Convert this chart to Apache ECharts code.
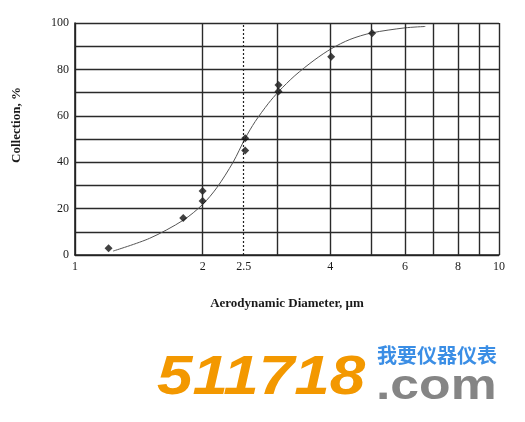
<!DOCTYPE html>
<html lang="en">
<head>
    <meta charset="utf-8">
    <title>Collection vs Aerodynamic Diameter</title>
    <script src="https://cdn.jsdelivr.net/npm/echarts@6/dist/echarts.min.js"></script>
    <style>
        html, body { margin: 0; padding: 0; background: #fff; }
        #main { width: 525px; height: 422px; }
    </style>
</head>
<body>
    <div id="main"></div>
    <script type="text/javascript">
        // measured points (diamonds)
        var pointX = [1.2, 1.8, 2.0, 2.0, 2.52, 2.52, 3.02, 3.02, 4.02, 5.02];
        var pointY = [2.9, 15.9, 27.6, 23.3, 50.3, 45.0, 73.3, 70.5, 85.4, 95.6];
        // fitted curve
        var curveX = [1.23, 1.5, 1.8, 2.0, 2.16, 2.36, 2.52, 2.66, 2.86, 3.02, 3.30, 3.68, 4.03, 4.45, 5.0, 6.0, 6.7];
        var curveY = [1.7, 7.2, 15.0, 21.8, 29.0, 40.0, 50.3, 57.5, 65.4, 70.4, 77.3, 84.2, 89.0, 92.9, 95.7, 97.9, 98.5];
        // vertical grid lines and the extra tick labels on the log axis
        var gridX = [2, 3, 4, 5, 6, 7, 8, 9];
        var labelX = [2, 4, 6, 8];
        var cutX = 2.5;

        var serif = 'Liberation Serif';
        var ink = '#1a1a1a';

        function pairs(xs, ys) {
            var out = [];
            for (var i = 0; i < xs.length; i++) out.push([xs[i], ys[i]]);
            return out;
        }

        var tickLabel = { show: true, position: 'start', distance: 6, formatter: '{b}',
                          fontFamily: serif, fontSize: 12, color: ink };
        var vLines = [];
        for (var i = 0; i < gridX.length; i++) {
            var v = gridX[i];
            vLines.push({
                xAxis: v, name: String(v),
                label: labelX.indexOf(v) >= 0 ? tickLabel : { show: false }
            });
        }
        // dashed cut line at 2.5 µm
        vLines.push({
            xAxis: cutX, name: String(cutX),
            label: tickLabel,
            lineStyle: { type: [2, 2], width: 1.2, color: '#222' }
        });

        var myChart = echarts.init(document.getElementById('main'));
        myChart.setOption({
            animation: false,
            backgroundColor: '#fff',
            grid: { left: 75, right: 26, top: 23, bottom: 167 },
            xAxis: {
                type: 'log', logBase: 10, min: 1, max: 10,
                name: 'Aerodynamic Diameter, \u00b5m',
                nameLocation: 'middle', nameGap: 42,
                nameTextStyle: { fontFamily: serif, fontWeight: 'bold', fontSize: 13, color: ink },
                axisLine: { show: true, lineStyle: { color: '#222', width: 1.6 } },
                axisTick: { show: false },
                axisLabel: { fontFamily: serif, fontSize: 12, color: ink, margin: 6 },
                splitLine: { show: true, lineStyle: { color: '#2a2a2a', width: 1.4 } },
                minorTick: { show: false },
                minorSplitLine: { show: false }
            },
            yAxis: {
                type: 'value', min: 0, max: 100, interval: 10,
                axisLine: { show: true, lineStyle: { color: '#222', width: 1.6 } },
                axisTick: { show: false },
                axisLabel: {
                    fontFamily: serif, fontSize: 12, color: ink, margin: 6,
                    formatter: function (v) { return v % 20 === 0 ? v : ''; }
                },
                splitLine: { show: true, lineStyle: { color: '#2a2a2a', width: 1.4 } }
            },
            graphic: [
                {
                    type: 'text', x: 17, y: 125, rotation: Math.PI / 2,
                    style: { text: 'Collection, %', fill: ink, align: 'center', verticalAlign: 'middle',
                             font: 'bold 13px "Liberation Serif"' }
                },
                {
                    type: 'text', x: 157, y: 379, scaleX: 1.16,
                    style: { text: '511718', fill: '#f39800', align: 'left', verticalAlign: 'middle',
                             font: 'italic bold 55px "Liberation Sans"' }
                },
                {
                    type: 'text', x: 376, y: 387, scaleX: 1.23,
                    style: { text: '.com', fill: '#858585', align: 'left', verticalAlign: 'middle',
                             font: 'bold 42px "Liberation Sans"' }
                },
                {
                    type: 'text', x: 377, y: 355,
                    style: { text: '我要仪器仪表', fill: '#3b8ee5', align: 'left', verticalAlign: 'middle',
                             font: 'bold 20px "Noto Sans CJK SC"' }
                }
            ],
            series: [
                {
                    name: 'curve', type: 'line', smooth: 0.3,
                    showSymbol: false, symbol: 'none',
                    lineStyle: { color: '#555', width: 1 },
                    data: pairs(curveX, curveY),
                    markLine: {
                        silent: true, symbol: ['none', 'none'],
                        lineStyle: { type: 'solid', color: '#2a2a2a', width: 1.4 },
                        data: vLines
                    },
                    z: 3
                },
                {
                    name: 'points', type: 'scatter', symbol: 'diamond', symbolSize: 8,
                    itemStyle: { color: '#111' },
                    data: pairs(pointX, pointY),
                    z: 4
                }
            ]
        });
    </script>
</body>
</html>
